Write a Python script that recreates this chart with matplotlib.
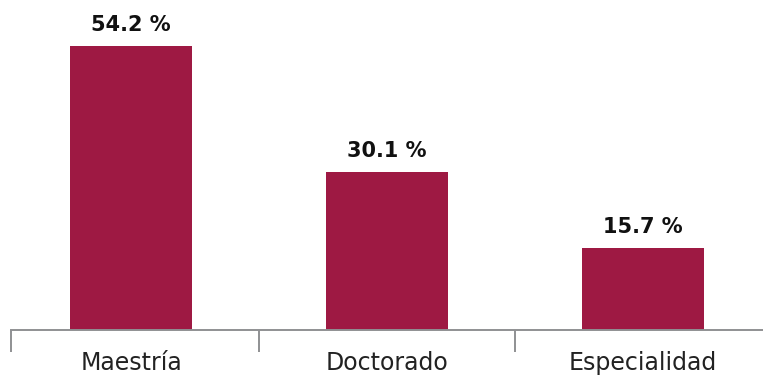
import matplotlib
matplotlib.use('Agg')
import matplotlib.pyplot as plt

# ─── DATA ────────────────────────────────────────────────────────────────
categories = ["Maestría", "Doctorado", "Especialidad"]
shares = [54.2, 30.1, 15.7]
boundaries = [-0.47, 0.5, 1.5]

BAR_COLOR = '#9e1943'
AXIS_COLOR = '#8f9093'

plt.rcParams['font.family'] = ['DejaVu Sans']

fig = plt.figure(figsize=(7.63, 3.76), dpi=100)
ax = fig.add_axes([11/763, 46/376, (763-11)/763, 314/376])

x = range(len(categories))
bars = ax.bar(x, shares, width=0.477, color=BAR_COLOR)

for bar, val in zip(bars, shares):
    ax.annotate(f'{val:.1f} %', (bar.get_x() + bar.get_width()/2, val),
                xytext=(0, 8), textcoords='offset points',
                ha='center', va='bottom', fontsize=15, fontweight='heavy',
                color='#111111')

ax.set_xlim(-0.47, 2.47)
ax.set_ylim(0, 60)

ax.set_xticks(list(x))
ax.set_xticklabels(categories, fontsize=17, color='#222222')
ax.tick_params(axis='x', which='major', length=0, pad=15)
ax.set_xticks(boundaries, minor=True)
ax.tick_params(axis='x', which='minor', length=16, width=1.4, color=AXIS_COLOR)

ax.set_yticks([])
for side in ['left', 'right', 'top']:
    ax.spines[side].set_visible(False)
ax.spines['bottom'].set_color(AXIS_COLOR)
ax.spines['bottom'].set_linewidth(1.4)

fig.savefig('out.png', dpi=100, facecolor='white')
